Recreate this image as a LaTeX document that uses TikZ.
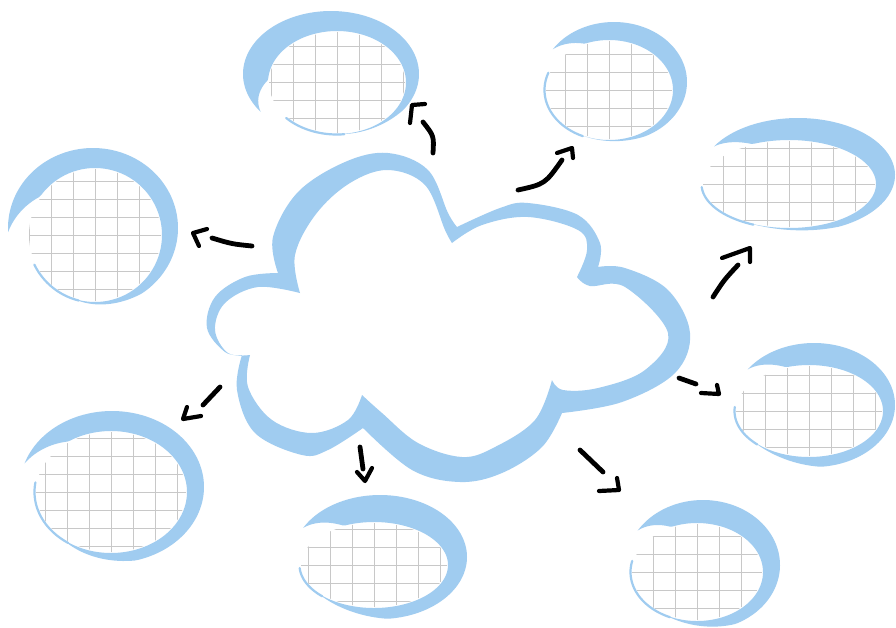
\documentclass[tikz,border=0pt]{standalone}
\definecolor{bub}{RGB}{160,204,240}
\definecolor{gridc}{RGB}{200,200,200}
\tikzset{
  band/.style={fill=bub},
  thinband/.style={draw=bub, line width=2.2pt, line cap=round},
  gridline/.style={draw=gridc, line width=0.55pt},
  shaft/.style={draw=black, line width=4.8pt, line cap=round},
  arrowhead/.style={draw=black, line width=4.2pt, line cap=round, line join=round},
  cloudfill/.style={fill=bub, even odd rule},
}
\begin{document}
\begin{tikzpicture}[x=1pt,y=-1pt,
  declare function={ramp(\s,\f)=min(1,max(0,(\s-1+\f)/\f));}]
\useasboundingbox[fill=white] (0,0) rectangle (896,627);

% ---------- bubbles ----------
\foreach \n/\cx/\cy/\rx/\ry/\ix/\iy/\irx/\iry/\aa/\ab/\ca in {
  b1/331/74/88/63/337/82.5/69/51.5/143/450/497,
  b2/614/82/73/60/609/90/64/50/213/480/560,
  b3/798/175/97/57/789/184/87/44/210/480/536,
  b4/93/228/85/80/95/235/67/67/177/470/514,
  b5/814/405/81/62/809/411/74/46/215/500/545,
  b6/112/487/92/76/111/492/76/61/198/490/549,
  b7/380/557/87/62/374/565/74/43/208/500/536,
  b8/703/565/77/65/697/572/66/49/212/480/553}
{
  \coordinate (\n) at (\cx,\cy);
  \begin{scope}
    \clip plot[variable=\t,domain=0:360,samples=73]
      ({\ix+(\irx-1)*cos(\t)},{\iy+(\iry-1)*sin(\t)}) -- cycle;
    \foreach \k in {-5,...,5} {
      \draw[gridline] ({\ix+\k*22},{\iy-\iry}) -- ({\ix+\k*22},{\iy+\iry});
      \draw[gridline] ({\ix-\irx},{\iy+\k*18}) -- ({\ix+\irx},{\iy+\k*18});
    }
  \end{scope}
  \pgfmathsetmacro{\fo}{55/(\ab-\aa)}
  \fill[band]
    plot[variable=\t,domain=0:1,samples=120]
      ({\cx+\rx*cos(\aa+(\ab-\aa)*\t) + ramp(\t,\fo)*(\ix+\irx*cos(\aa+(\ab-\aa)*\t)-\cx-\rx*cos(\aa+(\ab-\aa)*\t))},
       {\cy+\ry*sin(\aa+(\ab-\aa)*\t) + ramp(\t,\fo)*(\iy+\iry*sin(\aa+(\ab-\aa)*\t)-\cy-\ry*sin(\aa+(\ab-\aa)*\t))})
    -- plot[variable=\t,domain=0:1,samples=120]
      ({\ix+\irx*cos(\ab+(\aa-\ab)*\t) + ramp(\t,0.13)*(\cx+\rx*cos(\ab+(\aa-\ab)*\t)-\ix-\irx*cos(\ab+(\aa-\ab)*\t))},
       {\iy+\iry*sin(\ab+(\aa-\ab)*\t) + ramp(\t,0.13)*(\cy+\ry*sin(\ab+(\aa-\ab)*\t)-\iy-\iry*sin(\ab+(\aa-\ab)*\t))})
    -- cycle;
  \draw[thinband]
    plot[variable=\t,domain=0:1,samples=40]
      ({\ix+(\irx+0.5)*cos(\ab-6+(\ca-\ab+6)*\t)},{\iy+(\iry+0.5)*sin(\ab-6+(\ca-\ab+6)*\t)});
}

% ---------- central cloud ----------
\fill[cloudfill]
  plot[smooth,tension=0.6] coordinates {(278,273) (273,237) (298,192) (345,162) (388,153) (428,170) (448,213) (457,227)}
  -- plot[smooth,tension=0.6] coordinates {(457,227) (500,208) (528,203) (578,215) (600,243) (598,267)}
  -- plot[smooth,tension=0.6] coordinates {(598,267) (625,268) (668,290) (690,333) (675,373) (622,402) (562,413)}
  -- plot[smooth,tension=0.6] coordinates {(562,413) (542,447) (502,473) (460,482) (412,470) (363,428)}
  -- plot[smooth,tension=0.6] coordinates {(363,428) (328,450) (302,455) (255,433) (237,390) (242,355)}
  -- plot[smooth,tension=0.6] coordinates {(242,355) (225,352) (207,328) (215,297) (245,277) (278,273)}
  -- cycle
  plot[smooth,tension=0.6] coordinates {(300,293) (295,255) (316,214) (350,183) (388,170) (425,185) (445,230) (452,243)}
  -- plot[smooth,tension=0.6] coordinates {(452,243) (482,225) (528,217) (578,230) (587,250) (577,277)}
  -- plot[smooth,tension=0.6] coordinates {(577,277) (590,286) (625,287) (668,333) (645,370) (598,388) (563,390) (552,380)}
  -- plot[smooth,tension=0.6] coordinates {(552,380) (535,420) (495,447) (462,457) (418,443) (382,413) (362,395)}
  -- plot[smooth,tension=0.6] coordinates {(362,395) (348,420) (312,433) (272,420) (248,387) (250,355)}
  -- plot[smooth,tension=0.6] coordinates {(250,355) (228,353) (215,330) (225,303) (258,287) (300,293)}
  -- cycle;

% ---------- arrows ----------
\coordinate (a1s) at (433,153); \coordinate (a1e) at (423,122);
\coordinate (a1p) at (410,123); \coordinate (a1c) at (412,105); \coordinate (a1q) at (425,104);
\draw[shaft] (a1s) .. controls (434,136) .. (a1e);
\draw[arrowhead] (a1p) -- (a1c) -- (a1q);

\coordinate (a2s) at (518,190); \coordinate (a2e) at (562,160);
\coordinate (a2p) at (557,153); \coordinate (a2c) at (572,148); \coordinate (a2q) at (573,158);
\draw[shaft] (a2s) .. controls (545,184) .. (a2e);
\draw[arrowhead] (a2p) -- (a2c) -- (a2q);

\coordinate (a3s) at (713,297); \coordinate (a3e) at (738,265);
\coordinate (a3p) at (722,258); \coordinate (a3c) at (750,248); \coordinate (a3q) at (750,262);
\draw[shaft] (a3s) .. controls (724,280) .. (a3e);
\draw[arrowhead] (a3p) -- (a3c) -- (a3q);

\coordinate (a4s) at (252,246); \coordinate (a4e) at (212,238);
\coordinate (a4p) at (207,229); \coordinate (a4c) at (193,233); \coordinate (a4q) at (199,246);
\draw[shaft] (a4s) .. controls (232,244) .. (a4e);
\draw[arrowhead] (a4p) -- (a4c) -- (a4q);

\coordinate (a5s) at (220,387); \coordinate (a5e) at (203,405);
\coordinate (a5p) at (187,407); \coordinate (a5c) at (183,419); \coordinate (a5q) at (201,416);
\draw[shaft] (a5s) -- (a5e);
\draw[arrowhead] (a5p) -- (a5c) -- (a5q);

\coordinate (a6s) at (360,447); \coordinate (a6e) at (363,469);
\coordinate (a6p) at (357,472); \coordinate (a6c) at (365,481); \coordinate (a6q) at (372,468);
\draw[shaft] (a6s) -- (a6e);
\draw[arrowhead] (a6p) -- (a6c) -- (a6q);

\coordinate (a7s) at (580,450); \coordinate (a7e) at (603,472);
\coordinate (a7p) at (617,478); \coordinate (a7c) at (619,490); \coordinate (a7q) at (599,491);
\draw[shaft] (a7s) -- (a7e);
\draw[arrowhead] (a7p) -- (a7c) -- (a7q);

\coordinate (a8s) at (679,378); \coordinate (a8e) at (696,384);
\coordinate (a8p) at (701,393); \coordinate (a8c) at (719,394); \coordinate (a8q) at (717,385);
\draw[shaft] (a8s) -- (a8e);
\draw[arrowhead] (a8p) -- (a8c) -- (a8q);
\end{tikzpicture}
\end{document}
